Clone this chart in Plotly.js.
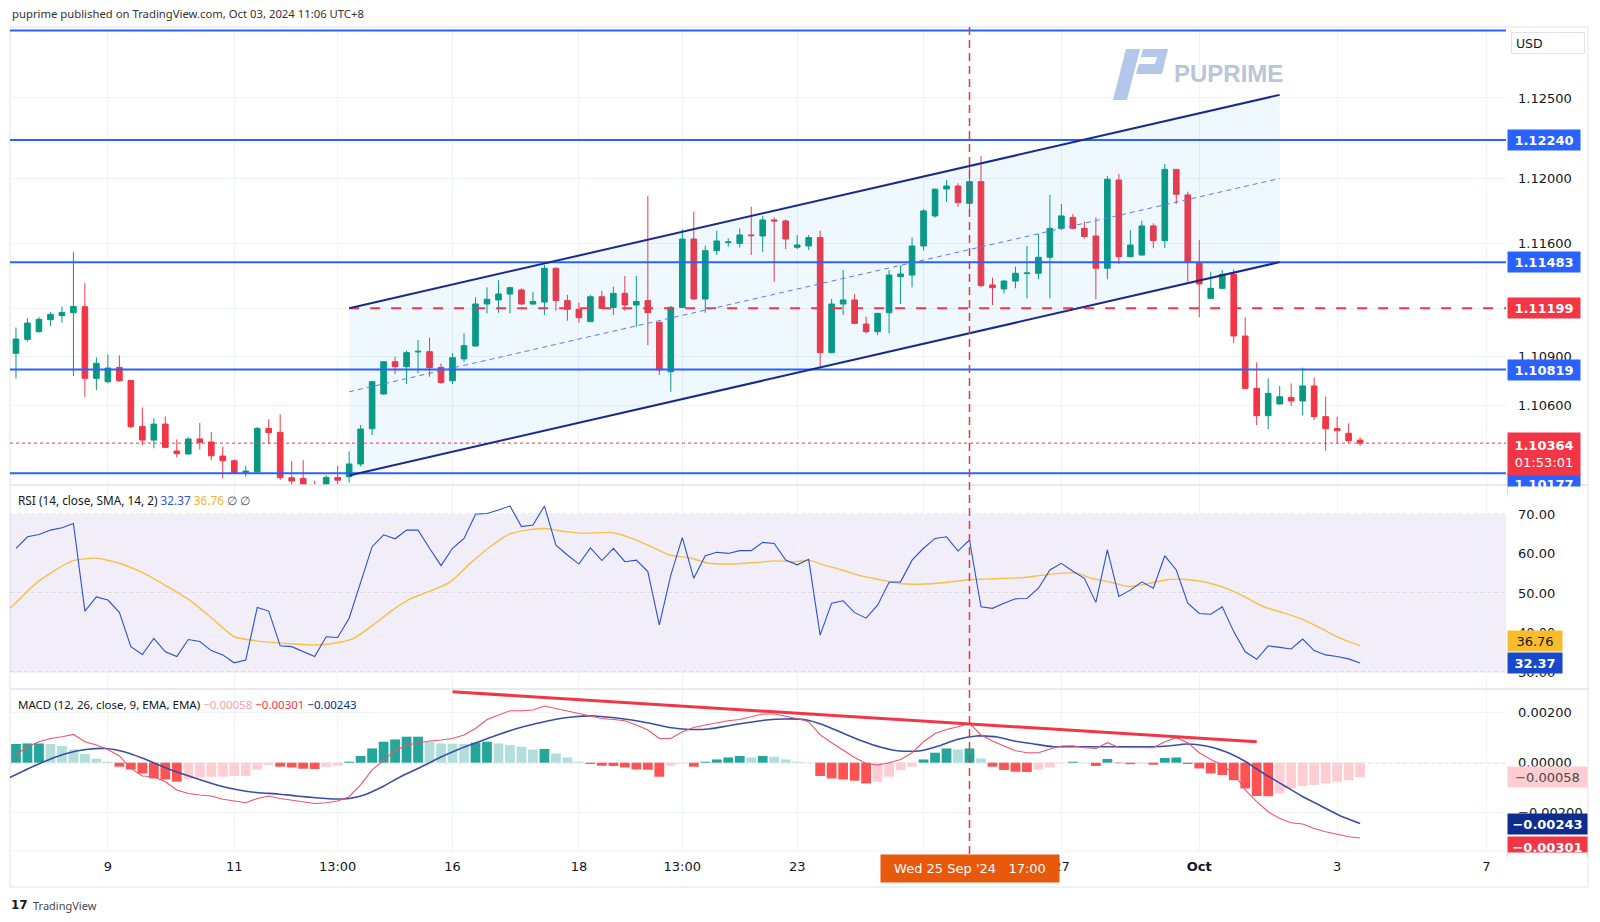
<!DOCTYPE html>
<html><head><meta charset="utf-8">
<script src="https://cdn.plot.ly/plotly-3.0.1.min.js"></script>
<style>html,body{margin:0;padding:0;background:#fff}#chart{width:1600px;height:922px}</style>
</head><body><div id="chart"></div>
<script>
// ---------- DATA (4H candles, index 0..117) ----------
const openP=[1.10920,1.11006,1.11054,1.11128,1.11153,1.11171,1.11208,1.10765,1.10744,1.10833,
1.10752,1.10468,1.10383,1.10482,1.10315,1.10297,1.10390,1.10371,1.10284,1.10255,
1.10183,1.10187,1.10455,1.10431,1.10150,1.10146,1.10100,1.10080,1.10152,1.10156,
1.10235,1.10453,1.10668,1.10868,1.10837,1.10928,1.10930,1.10833,1.10750,1.10885,
1.10965,1.11225,1.11250,1.11287,1.11312,1.11225,1.11237,1.11446,1.11246,1.11192,
1.11116,1.11270,1.11204,1.11291,1.11219,1.11246,1.11112,1.10806,1.11204,1.11627,
1.11256,1.11555,1.11605,1.11600,1.11652,1.11646,1.11745,1.11739,1.11576,1.11584,
1.11636,1.10924,1.11225,1.11250,1.11101,1.11054,1.11171,1.11394,1.11404,1.11584,
1.11770,1.11937,1.11955,1.11848,1.11982,1.11343,1.11318,1.11367,1.11413,1.11415,
1.11514,1.11693,1.11761,1.11693,1.11646,1.11446,1.11992,1.11518,1.11528,1.11708,
1.11617,1.12058,1.11900,1.11477,1.11260,1.11322,1.11409,1.11027,1.10703,1.10534,
1.10606,1.10647,1.10625,1.10718,1.10528,1.10455,1.10425,1.10383];
const highP=[1.11080,1.11136,1.11144,1.11175,1.11208,1.11545,1.11353,1.10895,1.10913,1.10907,
1.10755,1.10585,1.10517,1.10530,1.10387,1.10400,1.10488,1.10433,1.10342,1.10264,
1.10224,1.10464,1.10511,1.10542,1.10253,1.10259,1.10130,1.10165,1.10224,1.10313,
1.10476,1.10750,1.10870,1.10899,1.10936,1.11002,1.11017,1.10858,1.10920,1.11044,
1.11266,1.11328,1.11374,1.11332,1.11322,1.11301,1.11466,1.11450,1.11281,1.11233,
1.11281,1.11306,1.11332,1.11398,1.11398,1.11893,1.11115,1.11213,1.11687,1.11797,
1.11586,1.11679,1.11631,1.11693,1.11827,1.11770,1.11761,1.11748,1.11652,1.11652,
1.11679,1.11256,1.11435,1.11287,1.11147,1.11171,1.11435,1.11466,1.11636,1.11811,
1.11941,1.11992,1.11972,1.12075,1.12141,1.11388,1.11374,1.11456,1.11584,1.11658,
1.11900,1.11844,1.11782,1.11735,1.11761,1.12017,1.12030,1.11683,1.11741,1.11724,
1.12091,1.12060,1.11920,1.11621,1.11425,1.11435,1.11440,1.11142,1.10864,1.10765,
1.10718,1.10734,1.10831,1.10769,1.10651,1.10528,1.10486,1.10400];
const lowP=[1.10765,1.10992,1.11048,1.11089,1.11109,1.10779,1.10651,1.10693,1.10734,1.10744,
1.10455,1.10352,1.10332,1.10332,1.10276,1.10295,1.10325,1.10259,1.10146,1.10177,
1.10157,1.10177,1.10359,1.10136,1.10080,1.10060,1.10050,1.10060,1.10080,1.10120,
1.10220,1.10414,1.10665,1.10792,1.10730,1.10796,1.10775,1.10730,1.10730,1.10868,
1.10962,1.11167,1.11171,1.11167,1.11219,1.11219,1.11157,1.11184,1.11122,1.11109,
1.11114,1.11196,1.11157,1.11184,1.11085,1.10971,1.10786,1.10682,1.11200,1.11250,
1.11171,1.11528,1.11580,1.11576,1.11528,1.11545,1.11363,1.11565,1.11565,1.11559,
1.10831,1.10920,1.11157,1.11103,1.11043,1.11033,1.11043,1.11225,1.11328,1.11555,
1.11759,1.11858,1.11827,1.11782,1.11332,1.11219,1.11291,1.11322,1.11260,1.11378,
1.11260,1.11683,1.11687,1.11631,1.11254,1.11378,1.11473,1.11514,1.11525,1.11570,
1.11570,1.11844,1.11363,1.11142,1.11254,1.11316,1.10982,1.10697,1.10476,1.10451,
1.10604,1.10594,1.10538,1.10507,1.10317,1.10363,1.10367,1.10346];
const closeP=[1.11008,1.11107,1.11130,1.11161,1.11173,1.11210,1.10765,1.10858,1.10829,1.10750,
1.10466,1.10383,1.10482,1.10338,1.10299,1.10390,1.10369,1.10286,1.10255,1.10181,
1.10191,1.10455,1.10429,1.10150,1.10130,1.10090,1.10080,1.10152,1.10135,1.10235,
1.10451,1.10744,1.10868,1.10837,1.10924,1.10932,1.10831,1.10740,1.10893,1.10967,
1.11225,1.11254,1.11287,1.11326,1.11225,1.11240,1.11446,1.11246,1.11192,1.11140,
1.11270,1.11198,1.11291,1.11219,1.11240,1.11171,1.10817,1.11204,1.11627,1.11256,
1.11555,1.11615,1.11609,1.11652,1.11648,1.11745,1.11739,1.11627,1.11590,1.11636,
1.10924,1.11225,1.11250,1.11105,1.11054,1.11167,1.11404,1.11411,1.11584,1.11801,
1.11935,1.11955,1.11852,1.11982,1.11338,1.11326,1.11367,1.11415,1.11417,1.11514,
1.11693,1.11770,1.11693,1.11642,1.11446,1.11997,1.11518,1.11590,1.11708,1.11617,
1.12058,1.11904,1.11487,1.11349,1.11322,1.11409,1.11027,1.10703,1.10534,1.10672,
1.10651,1.10625,1.10718,1.10528,1.10453,1.10441,1.10379,1.10364];

const rsiVals=[61.4,64.3,64.9,66.0,66.6,67.7,45.5,49.1,48.3,45.2,
36.5,34.5,38.6,35.2,34.0,38.3,37.8,35.5,34.4,32.4,
33.1,46.4,45.5,36.7,36.5,35.2,34.0,39.0,38.8,43.7,
52.9,61.8,64.8,63.8,66.0,66.0,61.4,57.0,61.4,63.9,
70.0,70.2,71.1,72.1,66.9,67.3,72.1,62.2,59.7,57.4,
61.5,58.3,61.4,58.0,58.4,55.5,42.0,54.6,64.1,53.8,
59.5,60.4,60.1,60.8,60.8,62.9,62.6,58.4,57.2,58.6,
39.4,47.5,48.1,45.1,43.7,47.0,52.8,52.9,58.4,61.4,
63.9,64.3,60.7,63.5,46.6,46.2,47.5,48.6,48.7,51.3,
55.9,57.6,55.6,53.8,47.7,61.0,49.2,50.8,52.9,51.3,
59.5,55.9,47.5,44.9,44.7,46.6,40.3,35.2,33.3,36.7,
36.3,35.9,38.4,35.5,34.4,34.0,33.4,32.37];

const rsiSmaX=[-0.5,1.9,4.9,6.9,9.0,11.1,13.2,15.3,17.4,19.0,21.1,23.6,26.1,28.2,29.4,31.1,32.8,34.4,36.1,37.8,39.4,41.1,42.8,44.4,46.1,47.8,49.4,51.9,53.6,55.3,56.9,58.6,60.3,61.9,64.4,66.1,67.8,69.0,70.3,71.9,73.6,75.3,76.9,78.6,81.1,83.0,84.4,86.1,87.8,89.4,91.1,92.4,93.6,95.3,96.9,98.6,100.3,101.9,103.6,105.3,106.9,108.6,110.3,111.9,113.6,115.3,117];
const rsiSmaY=[46.2,52.9,58.2,58.9,57.6,55.1,51.7,47.9,42.8,39.0,37.9,37.3,36.9,37.6,38.6,42.0,45.8,48.7,50.6,52.9,57.2,61.4,64.8,66.0,66.4,65.6,65.2,65.4,63.9,61.8,59.7,59.0,57.6,57.4,57.8,58.2,58.0,58.4,57.2,55.9,54.4,53.4,52.5,52.3,52.8,53.5,53.6,53.8,54.0,54.6,55.1,55.1,53.8,52.8,51.7,52.5,53.5,53.5,52.8,51.3,49.2,46.6,45.1,43.5,41.1,38.6,36.76];

const macdHist=[0.00075,0.00077,0.00077,0.00075,0.00067,0.00053,0.00035,0.00016,0.00004,-0.00016,
-0.00027,-0.00043,-0.00063,-0.00067,-0.00076,-0.00065,-0.00059,-0.00056,-0.00056,-0.00053,
-0.00053,-0.00027,-0.00009,-0.00016,-0.00019,-0.00024,-0.00025,-0.00016,-0.00012,0.00004,
0.00027,0.00057,0.00084,0.00093,0.00104,0.00104,0.00084,0.00077,0.00076,0.00075,
0.00080,0.00084,0.00077,0.00071,0.00064,0.00053,0.00055,0.00037,0.00021,0.00004,
-0.00005,-0.00012,-0.00013,-0.00019,-0.00027,-0.00028,-0.00056,-0.00012,-0.00003,-0.00016,
0.00004,0.00013,0.00021,0.00027,0.00021,0.00027,0.00024,0.00013,0.00004,0.00001,
-0.00053,-0.00063,-0.00067,-0.00072,-0.00083,-0.00076,-0.00056,-0.00029,-0.00016,0.00013,
0.00040,0.00057,0.00053,0.00057,0.00017,-0.00016,-0.00029,-0.00036,-0.00037,-0.00027,
-0.00019,-0.00002,0.00004,0.00001,-0.00013,0.00015,-0.00002,-0.00006,-0.00004,-0.00008,
0.00019,0.00021,-0.00005,-0.00023,-0.00043,-0.00049,-0.00070,-0.00103,-0.00133,-0.00134,
-0.00123,-0.00103,-0.00093,-0.00089,-0.00083,-0.00076,-0.00070,-0.00058];

const macdLine=[0.00032,0.00064,0.00084,0.00097,0.00104,0.00113,0.00084,0.00071,0.00053,0.00027,
-0.00023,-0.00053,-0.00056,-0.00076,-0.00109,-0.00123,-0.00129,-0.00133,-0.00146,-0.00153,
-0.00160,-0.00143,-0.00133,-0.00143,-0.00149,-0.00156,-0.00163,-0.00160,-0.00153,-0.00136,
-0.00089,-0.00029,0.00008,0.00048,0.00071,0.00080,0.00087,0.00091,0.00097,0.00111,
0.00137,0.00173,0.00191,0.00208,0.00208,0.00211,0.00227,0.00217,0.00204,0.00195,
0.00184,0.00177,0.00173,0.00168,0.00151,0.00131,0.00097,0.00097,0.00124,0.00141,
0.00151,0.00160,0.00168,0.00173,0.00184,0.00195,0.00195,0.00187,0.00177,0.00164,
0.00111,0.00080,0.00051,0.00021,-0.00003,-0.00009,0.00000,0.00013,0.00040,0.00084,
0.00117,0.00133,0.00144,0.00157,0.00111,0.00087,0.00067,0.00048,0.00040,0.00040,
0.00055,0.00067,0.00068,0.00060,0.00057,0.00080,0.00061,0.00060,0.00061,0.00060,
0.00084,0.00100,0.00080,0.00040,0.00013,-0.00009,-0.00043,-0.00109,-0.00156,-0.00196,
-0.00223,-0.00240,-0.00245,-0.00263,-0.00276,-0.00285,-0.00296,-0.00301];

const signalX=[-0.56,1.1,2.8,4.4,6.1,7.8,9.4,11.1,12.8,14.4,16.1,17.8,19.4,21.1,22.8,24.4,26.1,27.8,29.0,30.3,31.9,33.6,35.3,36.9,38.6,40.3,41.9,43.6,45.3,46.9,48.6,50.3,51.9,53.6,55.3,56.9,58.6,60.3,61.9,63.6,65.3,66.9,68.6,70.3,71.9,73.6,75.3,76.9,78.6,80.3,81.9,83.6,85.3,86.9,88.6,90.3,91.9,93.6,95.3,96.9,98.6,100.3,101.9,103.6,105.3,106.9,108.6,110.3,111.9,113.6,115.3,117];
const signalY=[-0.00060,-0.00023,0.00011,0.00037,0.00053,0.00057,0.00044,0.00017,-0.00016,-0.00043,-0.00069,-0.00093,-0.00109,-0.00120,-0.00125,-0.00133,-0.00140,-0.00145,-0.00143,-0.00129,-0.00096,-0.00053,-0.00016,0.00021,0.00055,0.00084,0.00111,0.00137,0.00157,0.00173,0.00184,0.00187,0.00181,0.00171,0.00157,0.00141,0.00133,0.00135,0.00147,0.00160,0.00171,0.00175,0.00173,0.00151,0.00120,0.00088,0.00062,0.00047,0.00047,0.00067,0.00093,0.00107,0.00104,0.00087,0.00075,0.00064,0.00064,0.00064,0.00064,0.00064,0.00064,0.00067,0.00075,0.00067,0.00044,0.00008,-0.00043,-0.00089,-0.00133,-0.00173,-0.00213,-0.00243];

// time axis: tick positions (candle index) and their labels; '25' sits under the crosshair date box
const timeTickIdx=[8,19,28,38,49,58,68,79,91,103,115,128];
const timeTickText=['9','11','13:00','16','18','13:00','23','','27','<b>Oct</b>','3','7'];
const priceTicks=[1.125,1.120,1.116,1.112,1.109,1.106];
const priceTickText=['1.12500','1.12000','1.11600','','1.10900','1.10600'];
const rsiTicks=[30,40,50,60,70];
const macdTicks=[-0.002,0,0.002];

const blueLevels=[1.12917,1.12240,1.11483,1.10819,1.10177];
const blueLevelLabels=['','1.12240','1.11483','1.10819','1.10177'];
const redLevel=1.11199;
const lastPrice=1.10364;
const countdown='01:53:01';
const channelX=[29,110];
const channelUpper=[1.11199,1.12519];
const channelLower=[1.10164,1.11484];
const channelMid=[1.10682,1.12002];
const macdTrendX=[38,108];
const macdTrendY=[0.002836,0.000836];
const markerIdx=83;
const markerLabel="Wed 25 Sep '24&nbsp;&nbsp;&nbsp;17:00";
const lastRsi=32.37, lastRsiSma=36.76;
const lastHist=-0.00058, lastMacd=-0.00301, lastSignal=-0.00243;

// ---------- LAYOUT HELPERS ----------
const W=1600,H=922;
const PX=x=>x/W, PY=y=>1-y/H;
const L=10, R=1506, T=27, B1=485, B2=689, B3=851, BOT=887, RB=1588;
const idx=closeP.map((_,i)=>i);
const FONT='DejaVu Sans';
const TXT='#131722';
const neg=v=>(v<0?'\u2212':'')+Math.abs(v).toFixed(5);

const histColors=macdHist.map((h,i)=>{
  const p=i>0?macdHist[i-1]:h;
  if(h>=0) return h>=p?'#26a69a':'#b2dfdb';
  return h<p?'#ff5252':'#ffcdd2';
});

const traces=[
 {type:'candlestick',x:idx,open:openP,high:highP,low:lowP,close:closeP,xaxis:'x',yaxis:'y',
  increasing:{line:{color:'#089981',width:1},fillcolor:'#089981'},
  decreasing:{line:{color:'#f23645',width:1},fillcolor:'#f23645'},
  whiskerwidth:0,hoverinfo:'skip',showlegend:false},
 {type:'scatter',mode:'lines',x:rsiSmaX,y:rsiSmaY,xaxis:'x',yaxis:'y2',
  line:{color:'#f9c046',width:1.4,shape:'spline',smoothing:0.6},hoverinfo:'skip'},
 {type:'scatter',mode:'lines',x:idx,y:rsiVals,xaxis:'x',yaxis:'y2',
  line:{color:'#2a50d8',width:1.1},hoverinfo:'skip'},
 {type:'bar',x:idx,y:macdHist,xaxis:'x',yaxis:'y3',marker:{color:histColors,line:{width:0}},hoverinfo:'skip'},
 {type:'scatter',mode:'lines',x:signalX,y:signalY,xaxis:'x',yaxis:'y3',
  line:{color:'#3a4ea3',width:1.6,shape:'spline',smoothing:0.5},hoverinfo:'skip'},
 {type:'scatter',mode:'lines',x:idx,y:macdLine,xaxis:'x',yaxis:'y3',
  line:{color:'#f2536a',width:1.1},hoverinfo:'skip'}
];

const shapes=[];
shapes.push({type:'rect',xref:'paper',yref:'paper',x0:PX(L),x1:PX(RB),y0:PY(BOT),y1:PY(T),line:{color:'#e0e3eb',width:1},layer:'below'});
[B1,B2].forEach(y=>shapes.push({type:'line',xref:'paper',yref:'paper',x0:PX(L),x1:PX(RB),y0:PY(y),y1:PY(y),line:{color:'#e0e3eb',width:1.5}}));
shapes.push({type:'line',xref:'paper',yref:'paper',x0:PX(L),x1:PX(RB),y0:PY(B3),y1:PY(B3),line:{color:'#f0f3fa',width:1}});
shapes.push({type:'path',xref:'x',yref:'y',layer:'above',
  path:`M${channelX[0]},${channelUpper[0]} L${channelX[1]},${channelUpper[1]} L${channelX[1]},${channelLower[1]} L${channelX[0]},${channelLower[0]} Z`,
  fillcolor:'rgba(33,150,243,0.07)',line:{width:0}});
blueLevels.forEach(v=>shapes.push({type:'line',xref:'paper',yref:'y',x0:PX(L),x1:PX(R),y0:v,y1:v,layer:'above',line:{color:'#2962ff',width:2}}));
shapes.push({type:'line',xref:'x',yref:'y',x0:channelX[0],x1:129.7,y0:redLevel,y1:redLevel,layer:'above',line:{color:'#f23645',width:2,dash:'10px,11px'}});
shapes.push({type:'line',xref:'paper',yref:'y',x0:PX(L),x1:PX(R),y0:lastPrice,y1:lastPrice,layer:'above',line:{color:'#f23645',width:1,dash:'dot'}});
shapes.push({type:'line',xref:'x',yref:'y',x0:channelX[0],x1:channelX[1],y0:channelUpper[0],y1:channelUpper[1],layer:'above',line:{color:'#1a2a8c',width:2}});
shapes.push({type:'line',xref:'x',yref:'y',x0:channelX[0],x1:channelX[1],y0:channelLower[0],y1:channelLower[1],layer:'above',line:{color:'#1a2a8c',width:2}});
shapes.push({type:'line',xref:'x',yref:'y',x0:channelX[0],x1:channelX[1],y0:channelMid[0],y1:channelMid[1],layer:'above',line:{color:'#5c7cfa',width:1,dash:'5px,4px'}});
shapes.push({type:'rect',xref:'paper',yref:'y2',x0:PX(L),x1:PX(R),y0:30,y1:70,fillcolor:'rgba(126,87,194,0.10)',line:{width:0},layer:'below'});
[70,50,30].forEach(v=>shapes.push({type:'line',xref:'paper',yref:'y2',x0:PX(L),x1:PX(R),y0:v,y1:v,line:{color:'#9598a1',width:1,dash:'4px,3px'},layer:'below'}));
shapes.push({type:'line',xref:'paper',yref:'y3',x0:PX(L),x1:PX(R),y0:0,y1:0,line:{color:'#9598a1',width:1,dash:'4px,3px'},layer:'below'});
shapes.push({type:'line',xref:'x',yref:'y3',x0:macdTrendX[0],x1:macdTrendX[1],y0:macdTrendY[0],y1:macdTrendY[1],line:{color:'#f23645',width:3}});
shapes.push({type:'line',xref:'x',yref:'paper',x0:markerIdx,x1:markerIdx,y0:PY(854),y1:PY(T),line:{color:'#e53935',width:1.5,dash:'8px,5px'}});
const pth=(pts)=> 'M'+pts.map(p=>`${PX(p[0])},${PY(p[1])}`).join(' L')+' Z';
shapes.push({type:'path',xref:'paper',yref:'paper',path:pth([[1126,49],[1140,49],[1127,100],[1113,100]]),fillcolor:'#b3c7ea',line:{width:0}});
shapes.push({type:'path',xref:'paper',yref:'paper',path:pth([[1143,49],[1168,49],[1162,74],[1136,74],[1139,64],[1155,64],[1157,57],[1141,57]]),fillcolor:'#b3c7ea',line:{width:0}});

const ann=[];
const box=(y,yref,text,bg,fc,w,extra)=>Object.assign({xref:'paper',x:PX(1507),xanchor:'left',yref:yref,y:y,yanchor:'middle',
  text:text,showarrow:false,bgcolor:bg,font:{family:FONT,size:13,color:fc},width:w,height:18,align:'center',borderpad:1},extra||{});
ann.push({xref:'paper',yref:'paper',x:PX(10),y:PY(14),xanchor:'left',yanchor:'middle',showarrow:false,
  text:'puprime published on TradingView.com, Oct 03, 2024 11:06 UTC+8',font:{family:'Noto Sans',size:11.3,color:'#333333'}});
ann.push({xref:'paper',yref:'paper',x:PX(1511),y:PY(43),xanchor:'left',yanchor:'middle',showarrow:false,
  text:'&nbsp;USD',font:{family:FONT,size:12.5,color:TXT},width:72,height:20,align:'left',borderpad:0,bordercolor:'#e0e3eb',borderwidth:1,bgcolor:'#ffffff'});
ann.push({xref:'paper',yref:'paper',x:PX(1172),y:PY(73),xanchor:'left',yanchor:'middle',showarrow:false,
  text:'<b>PUPRIME</b>',font:{family:'Liberation Sans',size:24,color:'#b9c6da'}});
for(let k=1;k<blueLevels.length;k++) ann.push(box(blueLevels[k],'y','<b>'+blueLevelLabels[k]+'</b>','#2962ff','#ffffff',70,k===4?{yshift:-11}:{}));
ann.push(box(redLevel,'y','<b>'+redLevel.toFixed(5)+'</b>','#f23645','#ffffff',70));
ann.push(box(lastPrice,'y','<b>'+lastPrice.toFixed(5)+'</b><br><span style="font-weight:normal">'+countdown+'</span>','#f23645','#ffffff',70,{height:40,yshift:-11}));
ann.push({xref:'paper',yref:'paper',x:PX(1507),y:PY(485.5),xanchor:'left',yanchor:'top',showarrow:false,text:'&nbsp;',bgcolor:'#ffffff',width:78,height:16,borderpad:0});
ann.push(box(lastRsiSma,'y2',lastRsiSma.toFixed(2),'#f9bc2c',TXT,52,{yshift:5}));
ann.push(box(lastRsi,'y2','<b>'+lastRsi.toFixed(2)+'</b>','#1848cc','#ffffff',52));
ann.push(box(lastHist,'y3',neg(lastHist),'#ffcdd2','#4a4a4a',77));
ann.push(box(lastSignal,'y3','<b>'+neg(lastSignal)+'</b>','#0d2c8f','#ffffff',77,{yshift:-1}));
ann.push(box(lastMacd,'y3','<b>'+neg(lastMacd)+'</b>','#f23645','#ffffff',77,{yshift:-9}));
ann.push({xref:'paper',yref:'paper',x:PX(1507),y:PY(851.5),xanchor:'left',yanchor:'top',showarrow:false,text:'&nbsp;',bgcolor:'#ffffff',width:79,height:14,borderpad:0});
ann.push({xref:'paper',yref:'paper',x:PX(16),y:PY(500),xanchor:'left',yanchor:'middle',showarrow:false,
  text:'RSI (14, close, SMA, 14, 2) <span style="color:#2f55d9">'+lastRsi.toFixed(2)+'</span> <span style="color:#f5b52e">'+lastRsiSma.toFixed(2)+'</span> <span style="color:#555">\u2205 \u2205</span>',
  font:{family:'Noto Sans',size:11.8,color:TXT}});
ann.push({xref:'paper',yref:'paper',x:PX(16),y:PY(704),xanchor:'left',yanchor:'middle',showarrow:false,
  text:'MACD (12, 26, close, 9, EMA, EMA) <span style="color:#f7a1a8">'+neg(lastHist)+'</span> <span style="color:#f23645">'+neg(lastMacd)+'</span> <span style="color:#0d2c8f">'+neg(lastSignal)+'</span>',
  font:{family:'Noto Sans',size:11.5,color:TXT}});
ann.push({xref:'x',yref:'paper',x:markerIdx,y:PY(868),xanchor:'center',yanchor:'middle',showarrow:false,
  text:markerLabel,bgcolor:'#e8590c',font:{family:FONT,size:13,color:'#ffffff'},width:178,height:27,borderpad:0});
ann.push({xref:'paper',yref:'paper',x:PX(9),y:PY(905),xanchor:'left',yanchor:'middle',showarrow:false,
  text:'<b>17</b>',font:{family:'DejaVu Sans',size:12,color:'#131722'}});
ann.push({xref:'paper',yref:'paper',x:PX(31),y:PY(905),xanchor:'left',yanchor:'middle',showarrow:false,
  text:'TradingView',font:{family:'Noto Sans',size:11,color:'#434651'}});

const axisFont={family:FONT,size:13,color:TXT};
const layout={
  width:W,height:H,margin:{l:0,r:0,t:0,b:0},paper_bgcolor:'#ffffff',plot_bgcolor:'#ffffff',
  showlegend:false,bargap:0.15,hovermode:false,
  xaxis:{domain:[PX(L),PX(R)],range:[-0.52,129.7],anchor:'y3',tickmode:'array',tickvals:timeTickIdx,ticktext:timeTickText,
    tickfont:axisFont,showgrid:true,gridcolor:'#f0f3fa',zeroline:false,showline:false,ticks:'',ticklabelstandoff:6,
    rangeslider:{visible:false},fixedrange:true},
  yaxis:{domain:[PY(B1),PY(T)],range:[1.10105,1.12939],side:'right',anchor:'x',tickmode:'array',tickvals:priceTicks,
    ticktext:priceTickText,tickfont:axisFont,gridcolor:'#f0f3fa',zeroline:false,showline:false,ticks:'',ticklabelstandoff:11,fixedrange:true},
  yaxis2:{domain:[PY(B2),PY(B1)],range:[25.77,77.42],side:'right',anchor:'x',tickmode:'array',tickvals:rsiTicks,
    ticktext:rsiTicks.map(v=>v.toFixed(2)),tickfont:axisFont,gridcolor:'#f0f3fa',zeroline:false,showline:false,ticks:'',ticklabelstandoff:11,fixedrange:true},
  yaxis3:{domain:[PY(B3),PY(B2)],range:[-0.003532,0.002948],side:'right',anchor:'x',tickmode:'array',tickvals:macdTicks,
    ticktext:macdTicks.map(neg),tickfont:axisFont,gridcolor:'#f0f3fa',zeroline:false,showline:false,ticks:'',ticklabelstandoff:11,fixedrange:true},
  shapes:shapes,annotations:ann
};
Plotly.newPlot('chart',traces,layout,{displayModeBar:false,staticPlot:true});
</script></body></html>
